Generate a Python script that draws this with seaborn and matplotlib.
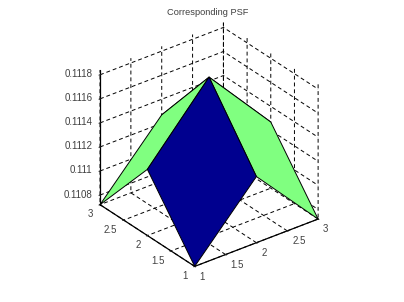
import matplotlib
matplotlib.use('Agg')
import matplotlib.pyplot as plt
from matplotlib.colors import to_rgba
import numpy as np
import seaborn as sns

# grid and surface heights
x_vals = [1, 2, 3]
y_vals = [1, 2, 3]
z_vals = [[0.11072, 0.11127, 0.11072],
          [0.11127, 0.11184, 0.11127],
          [0.11072, 0.11127, 0.11072]]
cell_colors = [['#00008f', '#80ff80'],
               ['#80ff80', '#80ff80']]
xy_ticks = [1, 1.5, 2, 2.5, 3]
xy_labels = ['1', '1.5', '2', '2.5', '3']
z_ticks = [0.1108, 0.111, 0.1112, 0.1114, 0.1116, 0.1118]
z_labels = ['0.1108', '0.111', '0.1112', '0.1114', '0.1116', '0.1118']

sns.set_style('white')
plt.rcParams['font.family'] = ['Liberation Sans', 'DejaVu Sans']

fig = plt.figure(figsize=(4.04, 3.02), dpi=100)
ax = fig.add_axes([0.0074, 0.008, 1, 1], projection='3d', proj_type='ortho')
ax.view_init(elev=30, azim=-127.5)
ax.set_box_aspect((1, 1, 1), zoom=0.866)

X, Y = np.meshgrid(x_vals, y_vals)
Z = np.array(z_vals)
faces = np.array([[to_rgba(c) for c in row] for row in cell_colors])
ax.plot_surface(X, Y, Z, facecolors=faces, shade=False, edgecolor='black',
                linewidth=0.7, rstride=1, cstride=1)

ax.set_xlim(1, 3)
ax.set_ylim(1, 3)
ax.set_zlim(0.11072, 0.11184)
ax.set_xticks(xy_ticks, xy_labels)
ax.set_yticks(xy_ticks, xy_labels)
ax.set_zticks(z_ticks, z_labels)
ax.tick_params(labelsize=7, labelcolor='#404040', pad=0)
ax.tick_params(axis='x', pad=-2)
ax.tick_params(axis='y', pad=-2)
ax.tick_params(axis='z', pad=-4)

for axis in (ax.xaxis, ax.yaxis, ax.zaxis):
    axis.set_pane_color((1, 1, 1, 0))
    axis.pane.set_edgecolor((1, 1, 1, 0))
    axis.line.set_color('black')
    axis.line.set_linewidth(0.9)
    axis._axinfo['grid'].update(color='black', linestyle=(0, (4, 3)), linewidth=0.7)
    axis._axinfo['tick'].update(inward_factor=0.1, outward_factor=0.03)

# label anchors: floor labels fan out from the front corner, z labels sit right-aligned
for label in ax.get_xticklabels():
    label.set_ha('left')
    label.set_va('center')
for label in ax.get_yticklabels():
    label.set_ha('right')
    label.set_va('center')
for label in ax.get_zticklabels():
    label.set_ha('right')
    label.set_va('center')

fig.text(0.514, 0.96, 'Corresponding PSF', ha='center', va='center',
         fontsize=6.7, color='#404040')
fig.savefig('out.png', dpi=100)
